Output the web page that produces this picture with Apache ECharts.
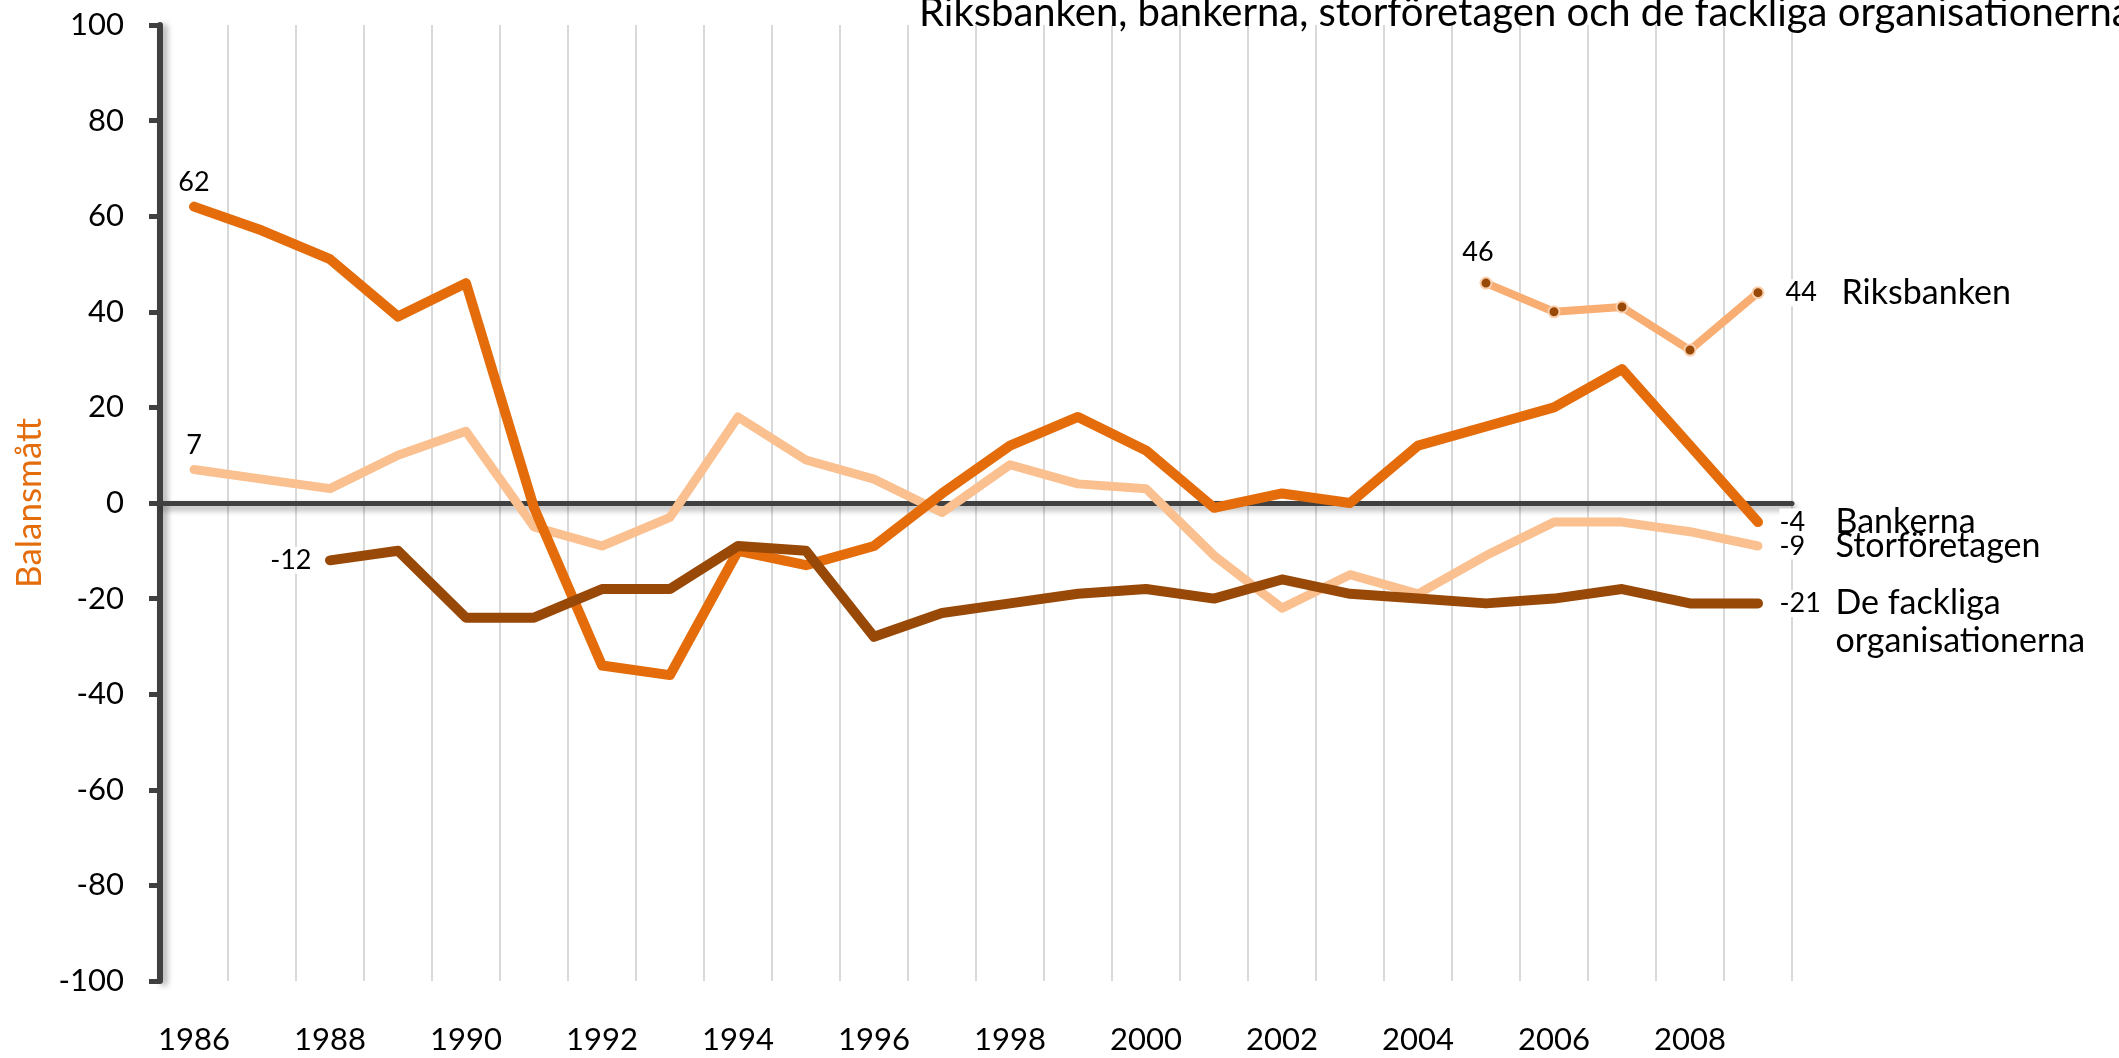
<!DOCTYPE html>
<html>
<head>
<meta charset="utf-8">
<title>Balansmått</title>
<script src="https://cdn.jsdelivr.net/npm/echarts@6/dist/echarts.min.js"></script>
<style>
  html, body { margin: 0; padding: 0; background: #fff; }
  #chart { width: 2119px; height: 1058px; }
</style>
</head>
<body>
<div id="chart"></div>
<script>
// data
const years = [
  "1986", "1987", "1988", "1989", "1990", "1991", "1992", "1993",
  "1994", "1995", "1996", "1997", "1998", "1999", "2000", "2001",
  "2002", "2003", "2004", "2005", "2006", "2007", "2008", "2009",
];
const bankerna = [62, 57, 51, 39, 46, -1, -34, -36, -10, -13, -9, 2, 12, 18, 11, -1, 2, 0, 12, 16, 20, 28, 12, -4];
const storforetagen = [7, 5, 3, 10, 15, -5, -9, -3, 18, 9, 5, -2, 8, 4, 3, -11, -22, -15, -19, -11, -4, -4, -6, -9];
const fackliga = [null, null, -12, -10, -24, -24, -18, -18, -9, -10, -28, -23, -21, -19, -18, -20, -16, -19, -20, -21, -20, -18, -21, -21];
const riksbanken = [null, null, null, null, null, null, null, null, null, null, null, null, null, null, null, null, null, null, null, 46, 40, 41, 32, 44];
const yTicks = { min: -100, max: 100, step: 20 };

const FONT = "Lato, 'Liberation Sans', sans-serif";
const AXIS = "#404040";

// label on the first and last point of a series
function withLabels(values, first, endName) {
  let firstIdx = values.findIndex((v) => v !== null);
  let lastIdx = values.length - 1;
  return values.map((v, i) => {
    if (i === firstIdx) {
      return { value: v, label: Object.assign({ show: true, formatter: "{c}" }, first) };
    }
    if (i === lastIdx) {
      let lines = endName.split("\n");
      let text = "{v|" + v + "}{n|" + lines[0] + "}";
      for (let k = 1; k < lines.length; k++) {
        text += "\n{e|}{n|" + lines[k] + "}";
      }
      return {
        value: v,
        label: {
          show: true,
          position: "right",
          distance: 21,
          offset: [0, (lines.length - 1) * 19],
          formatter: text,
          rich: {
            v: { width: 56, fontSize: 27, lineHeight: 26, color: "#000", fontFamily: FONT, backgroundColor: "#fff" },
            e: { width: 56 },
            n: { fontSize: 34, lineHeight: 38, color: "#000", fontFamily: FONT },
          },
        },
      };
    }
    return v;
  });
}

function lineSeries(name, values, color, width, first, endName, z) {
  return {
    name: name,
    type: "line",
    z: z,
    data: withLabels(values, first, endName),
    symbol: "circle",
    symbolSize: 1,
    showAllSymbol: true,
    itemStyle: { color: "rgba(0,0,0,0)" },
    lineStyle: { color: color, width: width, cap: "round", join: "round" },
    label: { fontSize: 27, color: "#000", fontFamily: FONT },
    emphasis: { disabled: true },
  };
}

const chart = echarts.init(document.getElementById("chart"));
const riksSeries = lineSeries("Riksbanken", riksbanken, "#F8AD72", 8,
  { position: "top", distance: 11, offset: [-8, 0] }, "Riksbanken", 5);
riksSeries.symbolSize = 11;
riksSeries.itemStyle = { color: "#984807", borderColor: "#FBD0AE", borderWidth: 2 };

chart.setOption({
  animation: false,
  textStyle: { fontFamily: FONT },
  title: {
    text: "Riksbanken, bankerna, storföretagen och de fackliga organisationerna",
    left: 914,
    top: -12,
    textStyle: { fontSize: 40, fontWeight: "normal", color: "#000", fontFamily: FONT },
  },
  grid: { left: 160, right: 327, top: 25, bottom: 77 },
  xAxis: [
    {
      type: "category",
      data: years,
      boundaryGap: true,
      position: "bottom",
      axisLine: { show: false, onZero: false },
      axisTick: { show: false },
      axisLabel: { interval: 1, fontSize: 31, margin: 43, color: "#000", fontFamily: FONT },
      splitLine: { show: true, interval: 0, lineStyle: { color: "#D9D9D9", width: 2 } },
    },
    {
      // zero line
      type: "category",
      data: years,
      position: "bottom",
      axisLine: {
        show: true,
        onZero: true,
        lineStyle: {
          color: AXIS, width: 5,
          shadowColor: "rgba(0,0,0,0.35)", shadowBlur: 6, shadowOffsetX: 2, shadowOffsetY: 4,
        },
      },
      axisTick: { show: false },
      axisLabel: { show: false },
      splitLine: { show: false },
    },
  ],
  yAxis: {
    type: "value",
    min: yTicks.min,
    max: yTicks.max,
    interval: yTicks.step,
    name: "Balansmått",
    nameLocation: "middle",
    nameGap: 112,
    nameTextStyle: { color: "#E46C0A", fontSize: 35, fontFamily: FONT },
    axisLine: {
      show: true,
      lineStyle: {
        color: AXIS, width: 6,
        shadowColor: "rgba(0,0,0,0.35)", shadowBlur: 6, shadowOffsetX: 4, shadowOffsetY: 2,
      },
    },
    axisTick: { show: true, length: 11, lineStyle: { color: AXIS, width: 5 } },
    axisLabel: { fontSize: 31, margin: 36, color: "#000", fontFamily: FONT },
    splitLine: { show: false },
  },
  series: [
    lineSeries("Storföretagen", storforetagen, "#FAC090", 9,
      { position: "top", distance: 10 }, "Storföretagen", 2),
    lineSeries("Bankerna", bankerna, "#E46C0A", 10,
      { position: "top", distance: 10 }, "Bankerna", 3),
    lineSeries("De fackliga organisationerna", fackliga, "#984807", 10,
      { position: "left", distance: 18, backgroundColor: "#fff" }, "De fackliga\norganisationerna", 4),
    riksSeries,
  ],
});
</script>
</body>
</html>
